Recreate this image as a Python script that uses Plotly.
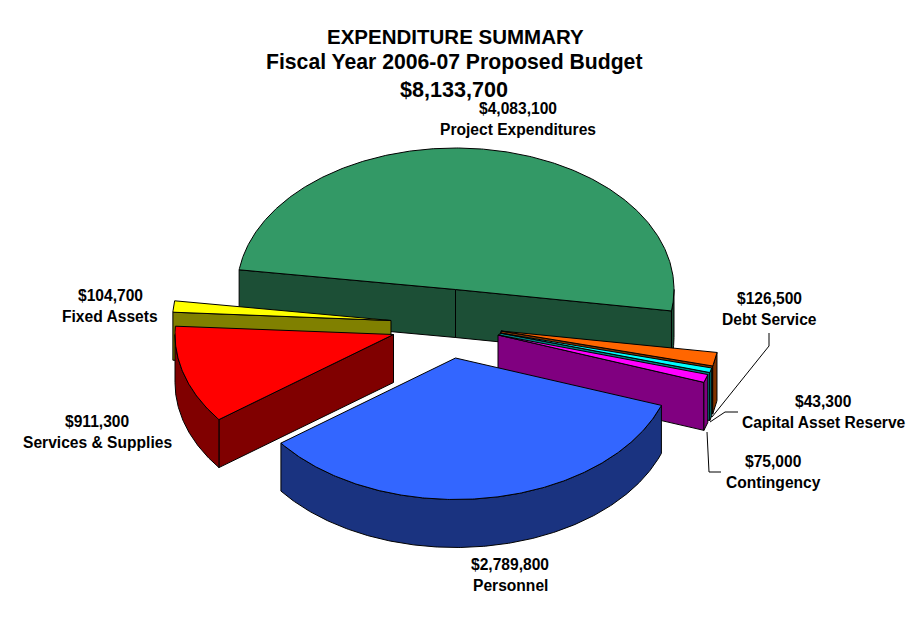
import numpy as np
import plotly.graph_objects as go

# ---- data ----
categories = ["Project Expenditures", "Debt Service", "Capital Asset Reserve", "Contingency",
              "Personnel", "Services & Supplies", "Fixed Assets"]
values = [4083100, 126500, 43300, 75000, 2789800, 911300, 104700]
value_labels = ["$4,083,100", "$126,500", "$43,300", "$75,000", "$2,789,800", "$911,300", "$104,700"]
title_lines = ["EXPENDITURE SUMMARY", "Fiscal Year 2006-07 Proposed Budget", "$8,133,700"]

# ---- styling / layout ----
top_colors = ["#339966", "#FF6600", "#00FFFF", "#FF00FF", "#3366FF", "#FF0000", "#FFFF00"]
side_colors = ["#1C4F36", "#803300", "#008080", "#800080", "#1A3380", "#800000", "#808000"]
centers = [(455.5, 289.5), (501, 331), (500, 333), (498, 335), (455.5, 358), (393.5, 334.5), (391, 320.5)]
# which straight cut faces are seen: "start" / "end" of each wedge
cut_faces = [("start", "end"), ("end",), ("end",), ("end",), (), ("start",), ("start",)]
RX, RY, DEPTH = 218.5, 141.5, 48
START_ANGLE = 172
draw_order = [0, 6, 5, 1, 2, 3, 4]
label_pos = [(518, 118.5), (769, 308.5), (823.5, 411.5), (773, 471.5), (510, 575), (97, 431.5), (110, 305.5)]
title_x = [455.5, 454, 454]
title_y = [36, 62, 89]
title_sizes = [20.5, 21.2, 21.6]
label_size = 15.6
leaders = [
    [(769, 333), (769, 346), (712, 417)],
    [(738, 412), (725, 412), (710, 422)],
    [(707, 432), (708, 460), (709, 472), (721, 472)],
]

total = sum(values)
sweeps = [v / total * 360 for v in values]
ends = START_ANGLE - np.cumsum(sweeps)
starts = ends + np.array(sweeps)


def pt(c, a, dz=0):
    r = np.radians(a)
    return c[0] + RX * np.cos(r), c[1] - RY * np.sin(r) + dz


def arc(c, a0, a1, dz=0):
    n = max(3, int(abs(a0 - a1) * 2))
    return [pt(c, a, dz) for a in np.linspace(a0, a1, n)]


def poly(fig, pts, color):
    xs, ys = zip(*(list(pts) + [pts[0]]))
    fig.add_trace(go.Scatter(x=xs, y=ys, mode="lines", fill="toself", fillcolor=color,
                             line=dict(color="black", width=1), hoverinfo="skip", showlegend=False))


def wedge(fig, i):
    c, a0, a1 = centers[i], starts[i], ends[i]
    top, side = top_colors[i], side_colors[i]
    for face in cut_faces[i]:
        a = a0 if face == "start" else a1
        p, q = (c[0], c[1]), pt(c, a)
        poly(fig, [p, q, (q[0], q[1] + DEPTH), (p[0], p[1] + DEPTH)], side)
    # curved outer wall: only its lower half shows
    r0, r1 = max(a1, -180), min(a0, 0)
    if r1 > r0:
        poly(fig, arc(c, r1, r0) + arc(c, r0, r1, DEPTH), side)
    poly(fig, [(c[0], c[1])] + arc(c, a0, a1), top)


fig = go.Figure()
for i in draw_order:
    wedge(fig, i)

for line in leaders:
    xs, ys = zip(*line)
    fig.add_trace(go.Scatter(x=xs, y=ys, mode="lines", line=dict(color="black", width=1),
                             hoverinfo="skip", showlegend=False))

font = "Liberation Sans"
annotations = []
for text, x, y, size in zip(title_lines, title_x, title_y, title_sizes):
    annotations.append(dict(x=x, y=y, text=f"<b>{text}</b>", showarrow=False, xanchor="center",
                            yanchor="middle", font=dict(family=font, size=size, color="black")))
for name, val, (x, y) in zip(categories, value_labels, label_pos):
    for text, dy in ((val, -10.5), (name, 10.5)):
        annotations.append(dict(x=x, y=y + dy, text=f"<b>{text}</b>", showarrow=False, xanchor="center",
                                yanchor="middle", font=dict(family=font, size=label_size, color="black")))

hidden = dict(visible=False, fixedrange=True)
fig.update_layout(width=909, height=620, margin=dict(l=0, r=0, t=0, b=0),
                  paper_bgcolor="white", plot_bgcolor="white", showlegend=False,
                  xaxis=dict(range=[0, 909], **hidden),
                  yaxis=dict(range=[620, 0], **hidden),
                  annotations=annotations)
fig.write_html("out.html", config={"displayModeBar": False},
               post_script="document.body.style.margin='0';document.body.style.overflow='hidden';")
